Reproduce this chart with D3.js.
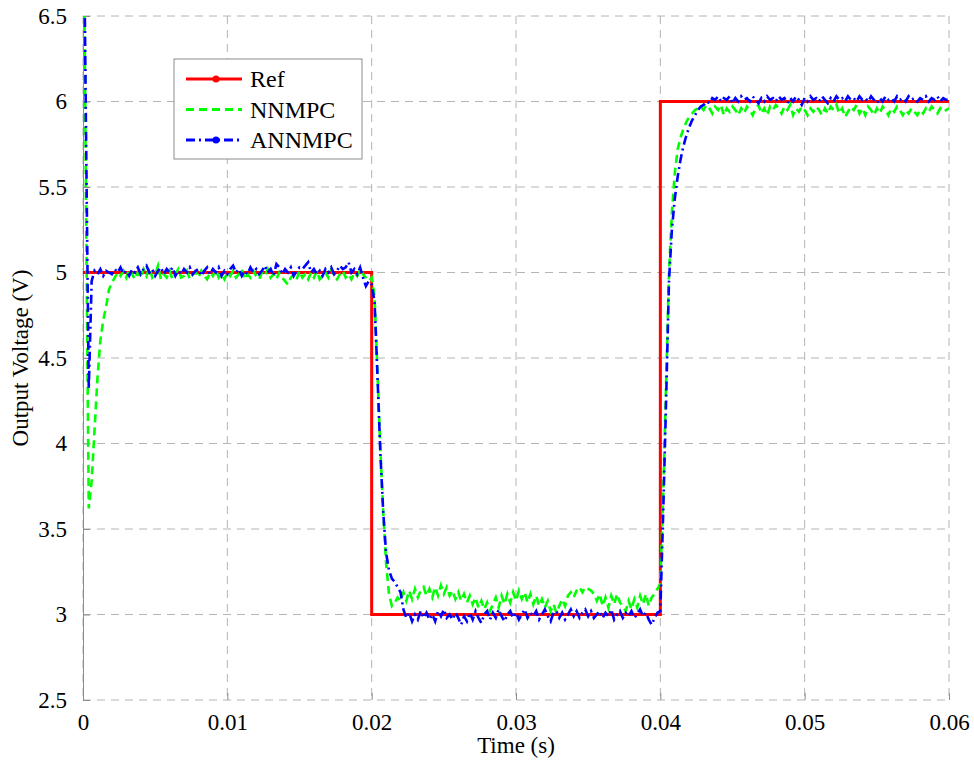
<!DOCTYPE html>
<html>
<head>
<meta charset="utf-8">
<script src="https://cdn.jsdelivr.net/npm/d3@7"></script>
<style>
  body { margin: 0; background: #fff; }
</style>
</head>
<body>
<script>
// sample step of the simulated outputs (s)
var dt = 0.0002;
var FONT = "'Liberation Serif', 'Times New Roman', serif";

var xTicks = [0, 0.01, 0.02, 0.03, 0.04, 0.05, 0.06];
var yTicks = [2.5, 3, 3.5, 4, 4.5, 5, 5.5, 6, 6.5];

// reference voltage (step profile)
var refTime = [0, 0.02, 0.02, 0.04, 0.04, 0.06];
var refVolt = [5, 5, 3, 3, 6, 6];

// NNMPC output, one value every dt
var nnmpc = [
  7.6, 5.5, 3.62, 3.78, 4.08, 4.38, 4.6, 4.72, 4.8, 4.9,
  4.94, 4.97, 5.0, 4.98, 5.01, 4.97, 5.02, 4.99, 4.96, 5.0,
  4.97, 5.02, 4.98, 5.03, 4.97, 4.99, 5.04, 4.96, 4.99, 4.97,
  5.01, 4.96, 4.99, 5.02, 4.97, 4.98, 5.01, 4.96, 4.99, 5.0,
  4.97, 5.01, 4.98, 4.96, 5.0, 4.98, 5.02, 4.97, 4.99, 4.96,
  5.0, 4.98, 5.01, 4.97, 4.99, 5.02, 4.96, 4.99, 4.97, 5.01,
  4.98, 4.96, 5.0, 4.98, 5.02, 4.97, 4.99, 4.96, 5.0, 4.97,
  4.95, 4.93, 4.97, 4.99, 4.96, 5.01, 4.97, 4.99, 4.96, 5.0,
  4.97, 5.01, 4.96, 4.98, 5.0, 4.97, 5.02, 4.98, 4.96, 4.99,
  5.01, 4.97, 4.99, 4.96, 5.0, 4.98, 5.02, 4.99, 4.97, 4.95,
  4.97, 4.86, 4.42, 3.97, 3.6, 3.3, 3.12, 3.05, 3.07, 3.1,
  3.08, 3.13, 3.08, 3.14, 3.09, 3.15, 3.1, 3.14, 3.16, 3.11,
  3.15, 3.1, 3.16, 3.11, 3.17, 3.12, 3.16, 3.11, 3.14, 3.09,
  3.13, 3.08, 3.12, 3.07, 3.11, 3.06, 3.1, 3.04, 3.08, 3.03,
  3.07, 3.02, 3.06, 3.1, 3.04, 3.11, 3.06, 3.12, 3.07, 3.13,
  3.08, 3.14, 3.09, 3.13, 3.07, 3.12, 3.06, 3.11, 3.05, 3.09,
  3.04, 3.08, 3.02, 3.06, 3.01, 3.05, 3.09, 3.05, 3.11, 3.13,
  3.1, 3.14, 3.16, 3.13, 3.16, 3.15, 3.14, 3.12, 3.08, 3.12,
  3.05, 3.1, 3.04, 3.11, 3.06, 3.12, 3.07, 3.05, 3.02, 3.08,
  3.03, 3.09, 3.04, 3.11, 3.06, 3.12, 3.05, 3.1, 3.12, 3.15,
  3.18, 3.7, 4.35, 5.0, 5.35, 5.58, 5.72, 5.79, 5.84, 5.88,
  5.91, 5.93, 5.95, 5.96, 5.97, 5.95, 5.98, 5.96, 5.93, 5.97,
  5.95, 5.98, 5.92, 5.96, 5.94, 5.97, 5.95, 5.92, 5.96, 5.93,
  5.97, 5.95, 5.92, 5.96, 5.98, 5.93, 5.96, 5.92, 5.97, 5.95,
  5.98, 5.96, 5.93, 5.97, 5.95, 5.98, 5.92, 5.96, 5.94, 5.97,
  5.95, 5.92, 5.96, 5.94, 5.97, 5.95, 5.92, 5.96, 5.93, 5.97,
  5.95, 5.98, 5.93, 5.96, 5.91, 5.94, 5.97, 5.95, 5.98, 5.93,
  5.96, 5.92, 5.97, 5.95, 5.92, 5.96, 5.93, 5.97, 5.95, 5.92,
  5.96, 5.94, 5.97, 5.95, 5.92, 5.95, 5.93, 5.96, 5.94, 5.92,
  5.95, 5.93, 5.96, 5.94, 5.97, 5.95, 5.93, 5.96, 5.94, 5.95,
  5.96
];

// ANNMPC output, one value every dt
var annmpc = [
  7.6, 5.9, 4.32, 4.95, 5.01, 4.99, 5.02, 4.98, 5.01, 5.0,
  4.99, 5.02, 5.0, 5.03, 4.99, 5.01, 4.98, 5.02, 5.0, 5.03,
  4.99, 5.02, 5.04, 5.0, 5.02, 4.98, 5.01, 5.03, 4.99, 5.02,
  5.0, 5.03, 4.98, 5.01, 4.99, 5.02, 5.0, 5.03, 4.99, 5.01,
  5.02, 4.98, 5.01, 5.03, 4.99, 5.02, 5.0, 5.03, 4.98, 5.01,
  4.99, 5.02, 5.04, 5.0, 5.02, 4.98, 5.01, 4.99, 5.03, 5.0,
  5.02, 4.99, 5.01, 5.04, 5.0, 5.02, 4.98, 5.05, 5.03, 4.99,
  5.02, 5.0, 5.03, 4.98, 5.01, 5.03, 5.02, 5.04, 5.06, 5.0,
  5.02, 4.99, 5.01, 4.98, 5.02, 5.0, 5.03, 4.99, 5.01, 5.04,
  5.02, 5.03, 5.06, 5.0, 5.02, 4.99, 5.03, 4.97, 4.92, 4.95,
  4.93, 4.83, 4.4, 3.95, 3.6, 3.36, 3.26, 3.21, 3.19, 3.16,
  3.13, 3.03, 2.98, 3.01, 2.96, 3.0, 2.97, 3.02, 2.98, 3.01,
  2.97, 3.0, 2.96, 3.02, 2.99, 3.03, 2.98, 3.0, 2.97, 3.01,
  2.98, 2.94, 2.99, 2.96, 3.01, 2.97, 3.02, 2.98, 2.95, 3.0,
  3.02, 2.97, 3.01, 2.98, 3.03, 2.99, 2.96, 3.0, 3.02, 2.98,
  3.01, 2.97, 3.0, 3.03, 2.98, 3.01, 2.99, 3.02, 2.97, 3.0,
  3.03, 2.99, 2.96, 3.01, 3.02, 2.98, 3.01, 2.97, 3.0, 3.03,
  2.99, 3.02, 2.98, 3.01, 3.03, 2.99, 3.02, 2.98, 3.0, 3.02,
  2.98, 3.01, 2.99, 3.03, 2.97, 3.0, 3.02, 2.98, 3.01, 2.99,
  3.02, 2.98, 3.0, 3.03, 2.99, 3.01, 2.97, 2.94, 2.98, 3.01,
  3.02, 3.6, 4.25, 4.95, 5.25, 5.43, 5.56, 5.66, 5.74, 5.8,
  5.85, 5.89, 5.92, 5.95, 5.97, 5.98, 6.0, 5.99, 6.02, 6.01,
  6.03, 6.0, 6.02, 6.01, 6.03, 5.99, 6.02, 6.0, 6.03, 6.01,
  6.02, 6.0, 6.03, 6.01, 5.99, 6.02, 6.0, 6.03, 6.01, 6.02,
  6.0, 6.03, 6.01, 6.02, 5.99, 6.02, 6.0, 6.03, 6.01, 5.98,
  6.02, 6.0, 6.03, 6.01, 6.02, 6.0, 6.03, 6.01, 5.99, 6.02,
  6.0, 6.03, 6.01, 6.02, 6.0, 6.03, 6.01, 6.02, 6.0, 6.03,
  6.01, 6.02, 6.0, 6.03, 6.01, 5.99, 6.02, 6.0, 6.03, 6.01,
  6.02, 6.0, 6.03, 6.01, 6.02, 6.0, 6.03, 6.01, 6.02, 6.0,
  6.02, 6.01, 6.03, 6.0, 6.02, 6.01, 6.03, 6.0, 6.02, 6.01,
  6.01
];

var width = 974,
    height = 763;

var margin = {top: 16, right: 25, bottom: 63, left: 83};
var w = width - margin.left - margin.right,
    h = height - margin.top - margin.bottom;

var svg = d3.select("body").append("svg")
    .attr("width", width)
    .attr("height", height)
    .style("font-family", FONT);

var g = svg.append("g")
    .attr("transform", "translate(" + margin.left + "," + margin.top + ")");

var x = d3.scaleLinear().domain([0, 0.06]).range([0, w]);
var y = d3.scaleLinear().domain([2.5, 6.5]).range([h, 0]);

// dashed grid
g.append("g").selectAll("line")
    .data(xTicks)
    .enter().append("line")
    .attr("x1", function(d) { return x(d); })
    .attr("x2", function(d) { return x(d); })
    .attr("y1", 0).attr("y2", h)
    .attr("stroke", "#b4b4b4")
    .attr("stroke-width", 1)
    .attr("stroke-dasharray", "8,6");

g.append("g").selectAll("line")
    .data(yTicks)
    .enter().append("line")
    .attr("x1", 0).attr("x2", w)
    .attr("y1", function(d) { return y(d); })
    .attr("y2", function(d) { return y(d); })
    .attr("stroke", "#b4b4b4")
    .attr("stroke-width", 1)
    .attr("stroke-dasharray", "8,6");

// axes, ticks pointing inward
var xAxis = d3.axisBottom(x)
    .tickValues(xTicks)
    .tickSizeInner(-7)
    .tickSizeOuter(0)
    .tickPadding(14)
    .tickFormat(function(d) { return d3.format("")(+d.toFixed(2)); });

var yAxis = d3.axisLeft(y)
    .tickValues(yTicks)
    .tickSizeInner(-7)
    .tickSizeOuter(0)
    .tickPadding(16)
    .tickFormat(d3.format(""));

var gx = g.append("g")
    .attr("transform", "translate(0," + h + ")")
    .call(xAxis)
    .attr("font-family", null);
gx.select(".domain").remove();
gx.selectAll("line").attr("stroke", "#8c8c8c");
gx.selectAll("text")
    .style("font-family", FONT)
    .style("font-size", "23px")
    .attr("dy", "0.71em");

var gy = g.append("g").call(yAxis)
    .attr("font-family", null);
gy.select(".domain").attr("stroke", "#8c8c8c");
gy.selectAll("line").attr("stroke", "#8c8c8c");
gy.selectAll("text")
    .style("font-family", FONT)
    .style("font-size", "23px");

// axis titles
g.append("text")
    .attr("x", w / 2)
    .attr("y", h + 53)
    .attr("text-anchor", "middle")
    .style("font-family", FONT)
    .style("font-size", "23px")
    .text("Time (s)");

g.append("text")
    .attr("transform", "translate(" + (-55) + "," + (h / 2) + ") rotate(-90)")
    .attr("text-anchor", "middle")
    .style("font-family", FONT)
    .style("font-size", "23px")
    .text("Output Voltage (V)");

// clip the traces to the plot area
svg.append("defs").append("clipPath")
    .attr("id", "plot-clip")
    .append("rect")
    .attr("width", w)
    .attr("height", h);

var plot = g.append("g").attr("clip-path", "url(#plot-clip)");

var line = d3.line()
    .x(function(d) { return x(d[0]); })
    .y(function(d) { return y(d[1]); });

function series(vals) {
  return vals.map(function(v, i) { return [i * dt, v]; });
}

plot.append("path")
    .datum(refTime.map(function(t, i) { return [t, refVolt[i]]; }))
    .attr("d", line)
    .attr("fill", "none")
    .attr("stroke", "#ff0000")
    .attr("stroke-width", 3);

plot.append("path")
    .datum(series(nnmpc))
    .attr("d", line)
    .attr("fill", "none")
    .attr("stroke", "#00ff00")
    .attr("stroke-width", 2.6)
    .attr("stroke-dasharray", "8,5");

plot.append("path")
    .datum(series(annmpc))
    .attr("d", line)
    .attr("fill", "none")
    .attr("stroke", "#0000ff")
    .attr("stroke-width", 2.6)
    .attr("stroke-dasharray", "9,4,2,4");

// legend
var legendItems = [
  {name: "Ref", color: "#ff0000", dash: null, dot: true},
  {name: "NNMPC", color: "#00ff00", dash: "8,5", dot: false},
  {name: "ANNMPC", color: "#0000ff", dash: "9,4,2,4", dot: true}
];

var lg = svg.append("g").attr("transform", "translate(174,59)");

lg.append("rect")
    .attr("width", 188)
    .attr("height", 100)
    .attr("fill", "#fff")
    .attr("stroke", "#8c8c8c")
    .attr("stroke-width", 1);

var row = lg.selectAll(".item")
    .data(legendItems)
    .enter().append("g")
    .attr("class", "item")
    .attr("transform", function(d, i) { return "translate(0," + (20 + i * 30.5) + ")"; });

row.append("line")
    .attr("x1", 12).attr("x2", 68)
    .attr("stroke", function(d) { return d.color; })
    .attr("stroke-width", 3)
    .attr("stroke-dasharray", function(d) { return d.dash; });

row.filter(function(d) { return d.dot; }).append("circle")
    .attr("cx", 42)
    .attr("r", 3.5)
    .attr("fill", function(d) { return d.color; });

row.append("text")
    .attr("x", 76)
    .attr("dy", "0.35em")
    .style("font-family", FONT)
    .style("font-size", "24px")
    .text(function(d) { return d.name; });
</script>
</body>
</html>
